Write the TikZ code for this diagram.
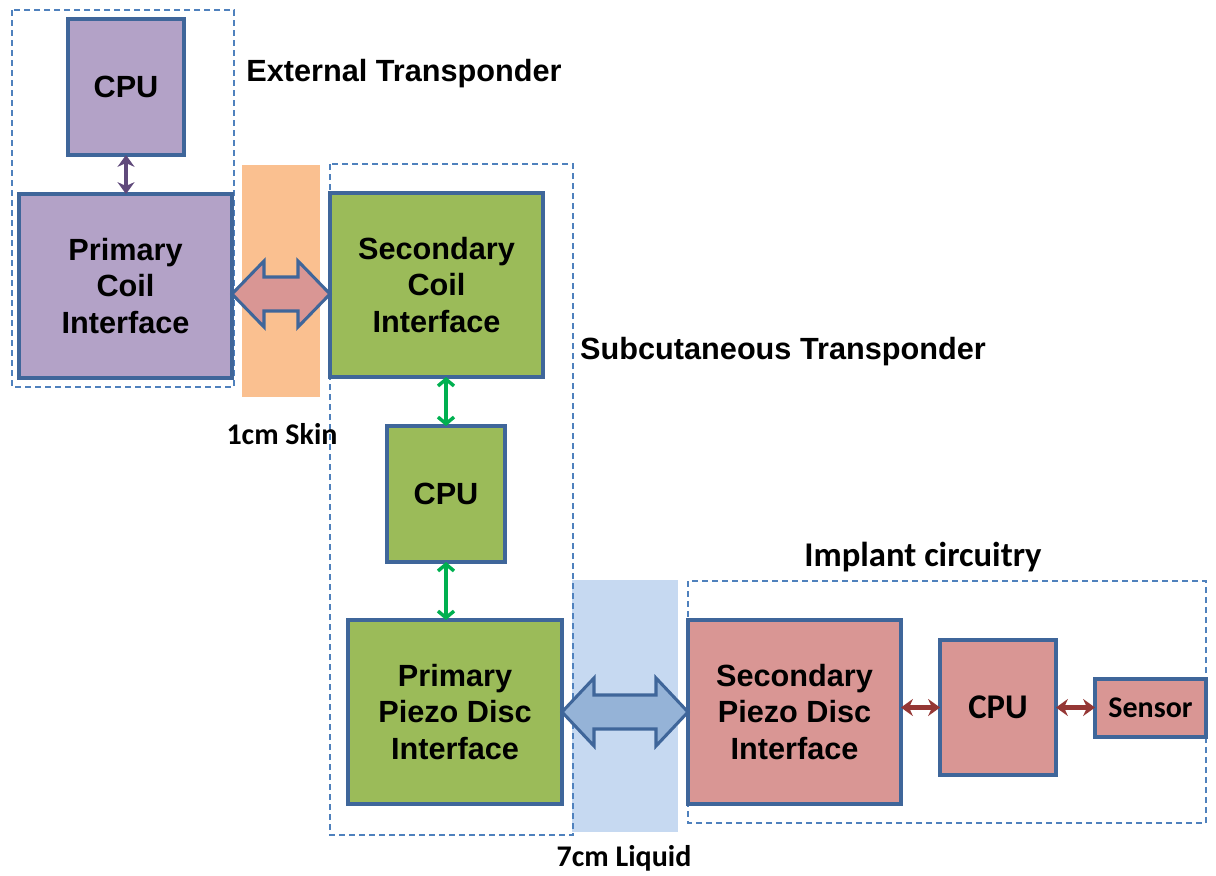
\documentclass[tikz,border=0pt]{standalone}
\usepackage{fontspec}
\setmainfont{Liberation Sans}
\newfontfamily\calib{Carlito}
\usetikzlibrary{arrows.meta,calc}
\definecolor{purfill}{HTML}{B3A2C7}
\definecolor{purarr}{HTML}{604A7B}
\definecolor{grnfill}{HTML}{9BBB59}
\definecolor{grnarr}{HTML}{00B050}
\definecolor{pnkfill}{HTML}{D99694}
\definecolor{brnarr}{HTML}{953735}
\definecolor{bordc}{HTML}{3F669A}
\definecolor{dashc}{HTML}{4F81BD}
\definecolor{orgband}{HTML}{FAC090}
\definecolor{bluband}{HTML}{C6D9F1}
\definecolor{bluarr}{HTML}{95B3D7}
\tikzset{
  blk/.style={draw=bordc, line width=2.3pt, align=center, inner sep=0pt, outer sep=0pt,
    font=\bfseries\fontsize{23}{27.4}\selectfont},
  sz/.style 2 args={minimum width=#1*0.75pt, minimum height=#2*0.75pt},
  grp/.style={draw=dashc, line width=1.1pt, dash pattern=on 4.5pt off 3pt},
  lbl/.style={font=\bfseries\fontsize{23}{27}\selectfont, inner sep=0pt},
  clbl/.style={font=\calib\bfseries\fontsize{22.5}{27}\selectfont, inner sep=0pt},
  smallarr/.style={line width=3.6pt, {Stealth[length=9pt,width=13pt,inset=3pt,line width=0pt]}-{Stealth[length=9pt,width=13pt,inset=3pt,line width=0pt]}},
  grnlink/.style={draw=grnarr, line width=2.6pt, {Straight Barb[length=5pt,width=12pt]}-{Straight Barb[length=5pt,width=12pt]}},
  barrow/.style={draw=bordc, line width=2.3pt, line join=miter},
}
\begin{document}
\begin{tikzpicture}[x=0.75pt,y=-0.75pt]
\useasboundingbox (0,0) rectangle (1216,875);
% bands
\fill[orgband] (242,165) rectangle (320,397);
\fill[bluband] (572,580) rectangle (678,832);
% group boxes
\draw[grp] (12,10) rectangle (234,387);
\draw[grp] (330,164) rectangle (573,835);
\draw[grp] (688,581) rectangle (1206,823);
% group labels
\node[lbl] (lext) at (404,74) {External Transponder};
\node[lbl] (lsub) at (783,352) {Subcutaneous Transponder};
\node[clbl, font=\calib\bfseries\fontsize{26}{30}\selectfont] (limp) at (923,557) {Implant circuitry};
\node[clbl] (lskin) at (282,434) {1cm Skin};
\node[clbl] (lliq) at (624,858) {7cm Liquid};
% blocks
\node[blk, fill=purfill, sz={116}{136}] (cpu1) at (126,87) {CPU};
\node[blk, fill=purfill, sz={213}{184}] (pci) at (125.5,286) {Primary\\Coil\\Interface};
\node[blk, fill=grnfill, sz={213}{184}] (sci) at (436.5,285) {Secondary\\Coil\\Interface};
\node[blk, fill=grnfill, sz={118}{136}] (cpu2) at (446,494) {CPU};
\node[blk, fill=grnfill, sz={214}{184}] (ppdi) at (455,712) {Primary\\Piezo Disc\\Interface};
\node[blk, fill=pnkfill, sz={213}{184}] (spdi) at (794.5,712) {Secondary\\Piezo Disc\\Interface};
\node[blk, fill=pnkfill, sz={116}{135}, font=\calib\bfseries\fontsize{26}{30}\selectfont] (cpu3) at (998,707.5) {CPU};
\node[blk, fill=pnkfill, sz={111}{58}, font=\calib\bfseries\fontsize{22.5}{27}\selectfont] (sensor) at (1150.5,708) {Sensor};
% small arrows
\draw[smallarr, draw=purarr] (cpu1.south) -- (cpu1.south |- pci.north);
\draw[grnlink] (cpu2.north) -- (cpu2.north |- sci.south);
\draw[grnlink] (cpu2.south) -- (cpu2.south |- ppdi.north);
\draw[smallarr, draw=brnarr] (cpu3.west) -- (cpu3.west -| spdi.east);
\draw[smallarr, draw=brnarr] (cpu3.east) -- (cpu3.east -| sensor.west);
% block arrows
\coordinate (pa) at ($(pci.east)+(0,8)$);
\coordinate (pb) at (pa -| sci.west);
\draw[barrow, fill=pnkfill] (pa) -- ++(32,-33) -- ++(0,16) -- ($(pb)+(-32,-17)$) -- ++(0,-16) -- (pb)
  -- ++(-32,33) -- ++(0,-16) -- ($(pa)+(32,17)$) -- ++(0,16) -- cycle;
\coordinate (ba) at (ppdi.east);
\coordinate (bb) at (spdi.west);
\draw[barrow, fill=bluarr] (ba) -- ++(32,-34) -- ++(0,17) -- ($(bb)+(-32,-17)$) -- ++(0,-17) -- (bb)
  -- ++(-32,34) -- ++(0,-17) -- ($(ba)+(32,17)$) -- ++(0,17) -- cycle;
\end{tikzpicture}
\end{document}
